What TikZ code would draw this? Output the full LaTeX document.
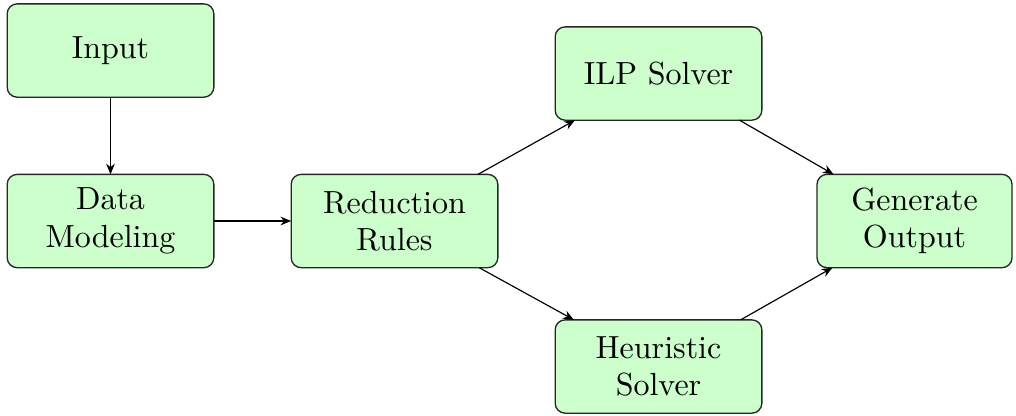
\documentclass[tikz,border=0pt]{standalone}
\usetikzlibrary{arrows.meta}
\begin{document}
\begin{tikzpicture}[x=0.3pt,y=-0.3pt,
  box/.style={draw=black!85, line width=0.4pt, fill=green!20, rounded corners=3pt,
    minimum width=62pt, minimum height=28pt, inner sep=0pt, outer sep=0pt,
    align=center, font=\fontsize{9.6}{11.2}\selectfont},
  conn/.style={-{Stealth[length=3.2pt,width=2.6pt]}, line width=0.35pt}]
\useasboundingbox (0,0) rectangle (1016,415);
\node[box] (inp) at (110.5,50.5) {Input};
\node[box] (dm) at (110.5,221) {Data\\Modeling};
\node[box] (rr) at (394.5,221) {Reduction\\Rules};
\node[box] (ilp) at (658.5,73.5) {ILP Solver};
\node[box] (hs) at (658.5,366.5) {Heuristic\\Solver};
\node[box, minimum width=58.5pt] (go) at (914.5,221) {Generate\\Output};
\draw[conn] (inp) -- (dm);
\draw[conn] (dm) -- (rr);
\draw[conn] (rr) -- (ilp);
\draw[conn] (rr) -- (hs);
\draw[conn] (ilp) -- (go);
\draw[conn] (hs) -- (go);
\end{tikzpicture}
\end{document}
